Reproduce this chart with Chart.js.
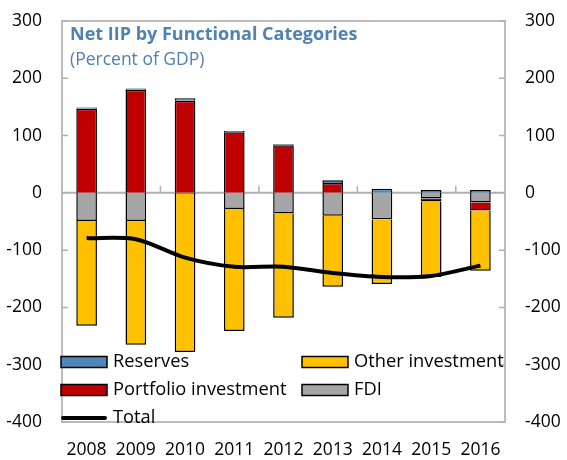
<!DOCTYPE html>
<html>
<head>
<meta charset="utf-8">
<script src="https://cdn.jsdelivr.net/npm/chart.js@4"></script>
<style>
  body { margin: 0; background: #fff; }
  #wrap { width: 567px; height: 460px; position: relative; }
</style>
</head>
<body>
<div id="wrap"><canvas id="chart"></canvas></div>
<script>
var years = ["2008", "2009", "2010", "2011", "2012", "2013", "2014", "2015", "2016"];
var reserves = [2, 2, 4, 2, 2, 5, 7, 5, 5];
var portfolio = [147, 180, 161, 106, 83, 17, 0, -5, -14];
var fdi = [-49, -49, -2, -28, -36, -40, -46, -10, -17];
var otherInv = [-183, -216, -276, -213, -182, -124, -113, -132, -105];
var total = [-79, -81, -113, -129, -129, -140, -147, -145, -127];
var yTicks = [300, 200, 100, 0, -100, -200, -300, -400];

var FONT = "'Open Sans'";

// box, zero line, inward tick marks, title and legend
var decor = {
  id: "decor",
  beforeDatasetsDraw: function (chart) {
    var ctx = chart.ctx, a = chart.chartArea;
    var y = chart.scales.y, x = chart.scales.x;
    ctx.save();
    ctx.strokeStyle = "#bcbcbc";
    ctx.lineWidth = 2;
    ctx.strokeRect(a.left, a.top, a.right - a.left, a.bottom - a.top);
    var z = y.getPixelForValue(0);
    ctx.strokeStyle = "#b0b0b0";
    ctx.beginPath();
    ctx.moveTo(a.left, z);
    ctx.lineTo(a.right, z);
    ctx.stroke();
    ctx.lineWidth = 1.5;
    yTicks.forEach(function (v) {
      var p = y.getPixelForValue(v);
      ctx.beginPath();
      ctx.moveTo(a.left, p); ctx.lineTo(a.left + 6, p);
      ctx.moveTo(a.right, p); ctx.lineTo(a.right - 6, p);
      ctx.stroke();
    });
    [1, 3, 5, 7].forEach(function (i) {
      var p = (x.getPixelForValue(i) + x.getPixelForValue(i + 1)) / 2;
      ctx.beginPath();
      ctx.moveTo(p, z); ctx.lineTo(p, z - 7);
      ctx.stroke();
    });
    ctx.restore();
  },
  afterDraw: function (chart) {
    var ctx = chart.ctx, a = chart.chartArea;
    ctx.save();
    ctx.fillStyle = "#4f81b3";
    ctx.textBaseline = "alphabetic";
    ctx.font = "bold 18px " + FONT;
    ctx.fillText("Net IIP by Functional Categories", a.left + 8, a.top + 19);
    ctx.font = "17.5px " + FONT;
    ctx.fillText("(Percent of GDP)", a.left + 8, a.top + 44);

    var ds = chart.data.datasets;
    var byLabel = {};
    ds.forEach(function (d) { byLabel[d.label] = d; });
    var items = [
      ["Reserves", 0, 0], ["Other investment", 1, 0],
      ["Portfolio investment", 0, 1], ["FDI", 1, 1],
      ["Total", 0, 2]
    ];
    ctx.font = "18.3px " + FONT;
    ctx.textBaseline = "middle";
    items.forEach(function (it) {
      var d = byLabel[it[0]];
      var sx = a.left - 1 + it[1] * 241;
      var sy = a.bottom - 60 + it[2] * 28;
      if (d.type === "line") {
        ctx.strokeStyle = "#000";
        ctx.lineWidth = 4;
        ctx.lineCap = "round";
        ctx.beginPath();
        ctx.moveTo(sx + 2, sy); ctx.lineTo(sx + 44, sy);
        ctx.stroke();
      } else {
        ctx.fillStyle = d.backgroundColor;
        ctx.fillRect(sx, sy - 5.5, 46, 11);
        ctx.strokeStyle = "#000";
        ctx.lineWidth = 1.5;
        ctx.strokeRect(sx, sy - 5.5, 46, 11);
      }
      ctx.fillStyle = "#000";
      ctx.fillText(it[0], sx + 52, sy);
    });
    ctx.restore();
  }
};

var tickFont = { family: FONT, size: 17.5 };

function fitY(s) {
  s.width = 62;
  s.paddingTop = 8;
  s.paddingBottom = 8;
}

new Chart(document.getElementById("chart"), {
  type: "bar",
  data: {
    labels: years,
    datasets: [
      { label: "Total", type: "line", data: total, borderColor: "#000", borderWidth: 4,
        pointRadius: 0, tension: 0.3, fill: false, order: 0, stack: "total" },
      { label: "FDI", data: fdi, backgroundColor: "#a6a6a6", order: 1 },
      { label: "Portfolio investment", data: portfolio, backgroundColor: "#c00000", order: 1 },
      { label: "Other investment", data: otherInv, backgroundColor: "#ffc000", order: 1 },
      { label: "Reserves", data: reserves, backgroundColor: "#4f88b8", order: 1 }
    ]
  },
  options: {
    responsive: true,
    maintainAspectRatio: false,
    animation: false,
    layout: { padding: { top: 21, left: 0, right: 0, bottom: 0 } },
    datasets: {
      bar: { borderColor: "#000", borderWidth: 1.5, barPercentage: 0.42, categoryPercentage: 1, stack: "main" }
    },
    plugins: { legend: { display: false }, tooltip: { enabled: false } },
    scales: {
      x: {
        stacked: true,
        grid: { display: false, drawTicks: false },
        border: { display: false },
        ticks: { font: tickFont, color: "#000", padding: 18, maxRotation: 0 },
        afterFit: function (s) { s.height = 38; }
      },
      y: {
        stacked: true,
        position: "left",
        min: -400, max: 300,
        grid: { display: false, drawTicks: false },
        border: { display: false },
        ticks: { stepSize: 100, font: tickFont, color: "#000", padding: 20 },
        afterFit: fitY
      },
      y2: {
        position: "right",
        min: -400, max: 300,
        grid: { display: false, drawTicks: false },
        border: { display: false },
        ticks: { stepSize: 100, font: tickFont, color: "#000", padding: 20 },
        afterFit: fitY
      }
    }
  },
  plugins: [decor]
});
</script>
</body>
</html>
